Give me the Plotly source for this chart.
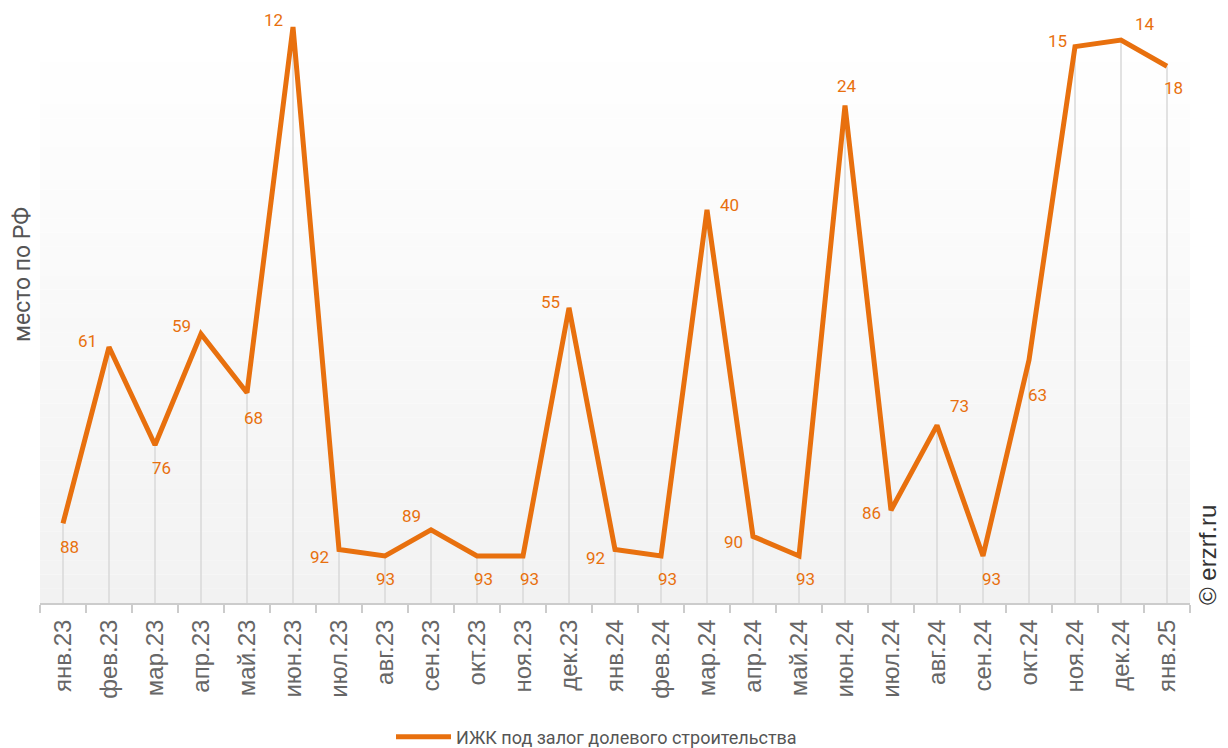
import plotly.graph_objects as go

# Monthly rank of the region (lower number = higher place)
months = ["янв.23", "фев.23", "мар.23", "апр.23", "май.23", "июн.23", "июл.23",
          "авг.23", "сен.23", "окт.23", "ноя.23", "дек.23", "янв.24", "фев.24",
          "мар.24", "апр.24", "май.24", "июн.24", "июл.24", "авг.24", "сен.24",
          "окт.24", "ноя.24", "дек.24", "янв.25"]
rank = [88, 61, 76, 59, 68, 12, 92, 93, 89, 93, 93, 55, 92, 93,
        40, 90, 93, 24, 86, 73, 93, 63, 15, 14, 18]
series_name = "ИЖК под залог долевого строительства"

# Axis extent (reversed: rank 1 at the top)
Y_FLOOR = 100.2
Y_TOP = 10.92

ORANGE = "#e8700e"

# Pixel offsets for each value label relative to its point
label_offsets = [(6, -24), (-22, 6), (6, -23), (-20, 8), (6, -25), (-20, 7),
                 (-20, -8), (0, -23), (-20, 14), (6, -23), (6, -23), (-19, 6),
                 (-20, -9), (6, -23), (22, 5), (-20, -6), (6, -23), (2, 19),
                 (-20, -3), (22, 19), (8, -23), (8, -35), (-18, 6), (24, 16),
                 (6, -22)]

fig = go.Figure()

# Drop lines from each point down to the category axis
dx, dy = [], []
for m, r in zip(months, rank):
    dx += [m, m, None]
    dy += [r, Y_FLOOR, None]
fig.add_trace(go.Scatter(x=dx, y=dy, mode="lines",
                         line=dict(color="#d9d9d9", width=1.5),
                         hoverinfo="skip", showlegend=False))

fig.add_trace(go.Scatter(x=months, y=rank, mode="lines", name=series_name,
                         line=dict(color=ORANGE, width=5), cliponaxis=False))

annotations = []
for m, r, (ox, oy) in zip(months, rank, label_offsets):
    annotations.append(dict(x=m, y=r, xref="x", yref="y", text=str(r),
                            showarrow=False, xshift=ox, yshift=oy,
                            font=dict(family="Roboto", size=17, color=ORANGE)))

annotations.append(dict(x=22, y=275, xref="paper", yref="paper", text="место по РФ",
                        showarrow=False, textangle=-90, xanchor="center", yanchor="middle",
                        font=dict(family="Roboto", size=23, color="#555555")))
annotations.append(dict(x=1207, y=555, xref="paper", yref="paper", text="© erzrf.ru",
                        showarrow=False, textangle=-90, xanchor="center", yanchor="middle",
                        font=dict(family="Liberation Sans", size=24, color="#333333")))

# convert the two pixel-placed annotations to paper coordinates
L, R, T, B = 40, 38, 20, 145
W, H = 1228, 748
pw, ph = W - L - R, H - T - B
for a in annotations[-2:]:
    a["x"] = (a["x"] - L) / pw
    a["y"] = (H - B - a["y"]) / ph

# Soft vertical gradient behind the plot area (white at top to light grey)
shapes = []
n = 40
g_top = (H - B - 33) / ph
for i in range(n):
    y0 = g_top * i / n
    y1 = g_top * (i + 1) / n
    t = (i + 0.5) / n
    v = round(242 + (255 - 242) * t)
    shapes.append(dict(type="rect", xref="paper", yref="paper", x0=0, x1=1,
                       y0=y0, y1=y1, fillcolor=f"rgb({v},{v},{v})",
                       line=dict(width=0), layer="below"))

fig.update_layout(
    width=W, height=H,
    margin=dict(l=L, r=R, t=T, b=B, autoexpand=False),
    paper_bgcolor="white", plot_bgcolor="white",
    shapes=shapes, annotations=annotations,
    showlegend=True,
    legend=dict(orientation="h", x=(596.5 - L) / pw, xanchor="center",
                y=(H - B - 737) / ph, yanchor="middle", itemwidth=55,
                font=dict(family="Roboto", size=18, color="#555555")),
    xaxis=dict(type="category", range=[-0.5, len(months) - 0.5], automargin=False,
               tickson="boundaries", ticks="outside", ticklen=8, tickcolor="#cccccc",
               tickwidth=2, showline=True, linecolor="#cccccc", linewidth=2,
               showgrid=False, zeroline=False, tickangle=-90, ticklabelstandoff=5,
               tickfont=dict(family="Liberation Sans", size=24, color="#666666")),
    yaxis=dict(range=[Y_FLOOR, Y_TOP], showgrid=False, zeroline=False, automargin=False,
               showticklabels=False, ticks=""),
)

fig.write_html("out.html")
